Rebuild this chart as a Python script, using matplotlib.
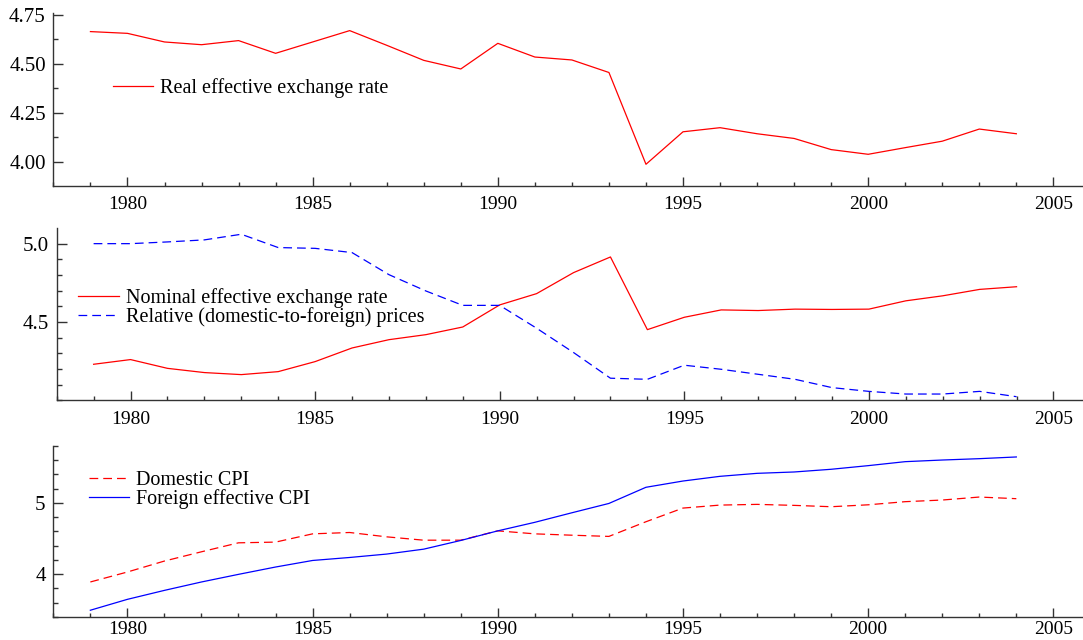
import numpy as np
import matplotlib
matplotlib.use("Agg")
import matplotlib.pyplot as plt
from matplotlib.ticker import MultipleLocator

plt.rcParams["font.family"] = ["Liberation Serif", "DejaVu Serif"]

years = np.arange(1979, 2005)

# panel 1
reer = [4.665, 4.656, 4.612, 4.598, 4.619, 4.554, 4.612, 4.670, 4.595, 4.518,
        4.474, 4.605, 4.535, 4.520, 4.456, 3.987, 4.153, 4.174, 4.143, 4.119,
        4.062, 4.038, 4.072, 4.105, 4.167, 4.143]

# panel 2
neer = [4.230, 4.260, 4.204, 4.177, 4.164, 4.183, 4.247, 4.334, 4.387, 4.419,
        4.468, 4.609, 4.681, 4.815, 4.915, 4.451, 4.530, 4.577, 4.573, 4.582,
        4.580, 4.582, 4.635, 4.667, 4.708, 4.725]
rel_prices = [5.000, 5.000, 5.011, 5.024, 5.060, 4.975, 4.970, 4.943, 4.802, 4.698,
              4.606, 4.606, 4.460, 4.305, 4.141, 4.134, 4.224, 4.198, 4.166, 4.134,
              4.081, 4.057, 4.040, 4.040, 4.057, 4.023]

# panel 3
dom_cpi = [3.890, 4.030, 4.184, 4.314, 4.440, 4.450, 4.566, 4.585, 4.524, 4.477,
           4.477, 4.608, 4.566, 4.547, 4.530, 4.736, 4.928, 4.970, 4.980, 4.966,
           4.947, 4.974, 5.018, 5.041, 5.083, 5.060]
for_cpi = [3.493, 3.646, 3.772, 3.890, 3.997, 4.100, 4.192, 4.234, 4.282, 4.351,
           4.473, 4.608, 4.728, 4.862, 4.993, 5.220, 5.308, 5.374, 5.416, 5.435,
           5.473, 5.524, 5.580, 5.603, 5.622, 5.646]

W, H = 1083, 640
fig = plt.figure(figsize=(W / 100, H / 100), dpi=100)


def make_axes(left, top, bottom):
    # pixel box -> figure fraction
    return fig.add_axes([left / W, 1 - bottom / H, 1 - left / W, (bottom - top) / H])


def style(ax, ylim, major, minor, fmt, xpad=7.5):
    ax.set_xlim(1978, 2005.8)
    ax.set_ylim(*ylim)
    for s in ["top", "right"]:
        ax.spines[s].set_visible(False)
    for s in ["left", "bottom"]:
        ax.spines[s].set_color("#333333")
        ax.spines[s].set_linewidth(1.0)
    ax.xaxis.set_major_locator(MultipleLocator(5))
    ax.xaxis.set_minor_locator(MultipleLocator(1))
    ax.yaxis.set_major_locator(MultipleLocator(major))
    ax.yaxis.set_minor_locator(MultipleLocator(minor))
    ax.yaxis.set_major_formatter(fmt)
    ax.tick_params(axis="both", which="both", direction="in", color="#333333", width=1.0)
    ax.tick_params(axis="x", which="major", length=6.5, pad=xpad, labelsize=14)
    ax.tick_params(axis="x", which="minor", length=3.2)
    ax.tick_params(axis="y", which="major", length=7.5, pad=5.5, labelsize=15)
    ax.tick_params(axis="y", which="minor", length=3.6)


leg_kw = dict(loc="center left", frameon=False, fontsize=14.5, borderpad=0,
              borderaxespad=0, handlelength=2.0, handletextpad=0.35, labelspacing=-0.05)

ax1 = make_axes(53.4, 13, 186)
ax1.plot(years, reer, color="#ff0000", lw=0.9, label="Real effective exchange rate")
style(ax1, (3.876, 4.76), 0.25, 0.125, "{x:.2f}")
ax1.legend(bbox_to_anchor=(0.058, 0.565), **leg_kw)

ax2 = make_axes(56.7, 228.3, 400.3)
ax2.plot(years, neer, color="#ff0000", lw=0.9, label="Nominal effective exchange rate")
ax2.plot(years, rel_prices, color="#0000ff", lw=0.9, dashes=(7, 4),
         label="Relative (domestic-to-foreign) prices")
style(ax2, (4.0, 5.098), 0.5, 0.1, "{x:.1f}")
ax2.set_yticks([4.5, 5.0])
ax2.legend(bbox_to_anchor=(0.021, 0.537), **leg_kw)

ax3 = make_axes(53.3, 446, 617)
ax3.plot(years, dom_cpi, color="#ff0000", lw=0.9, dashes=(7, 4), label="Domestic CPI")
ax3.plot(years, for_cpi, color="#0000ff", lw=0.9, label="Foreign effective CPI")
style(ax3, (3.398, 5.80), 1, 0.2, "{x:.0f}", xpad=3.0)
ax3.legend(bbox_to_anchor=(0.0345, 0.744), **leg_kw)

fig.savefig("out.png", dpi=100)
